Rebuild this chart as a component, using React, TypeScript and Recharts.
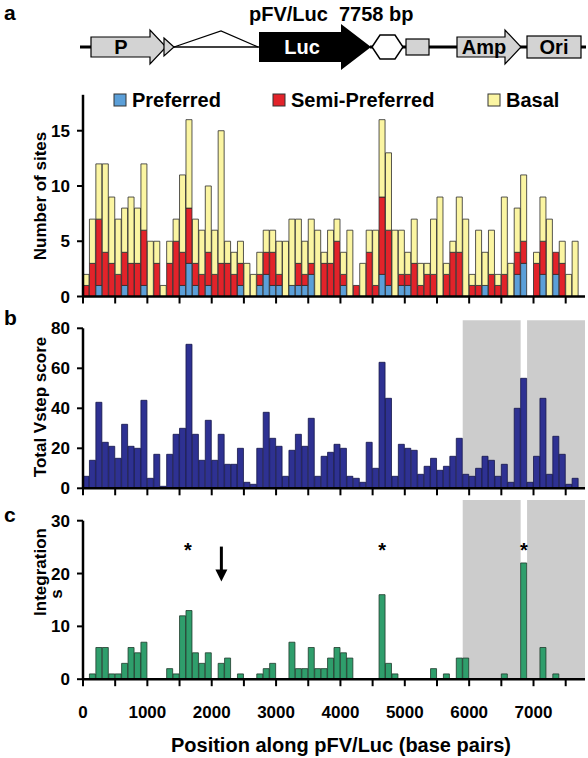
import React from 'react';
import { BarChart, Bar, XAxis, YAxis, ReferenceArea, ReferenceDot } from 'recharts';

// 100 bp bins along the 7758 bp plasmid (bin centres)
const binCenters = [
  50, 150, 250, 350, 450, 550, 650, 750, 850, 950,
  1050, 1150, 1250, 1350, 1450, 1550, 1650, 1750, 1850, 1950,
  2050, 2150, 2250, 2350, 2450, 2550, 2650, 2750, 2850, 2950,
  3050, 3150, 3250, 3350, 3450, 3550, 3650, 3750, 3850, 3950,
  4050, 4150, 4250, 4350, 4450, 4550, 4650, 4750, 4850, 4950,
  5050, 5150, 5250, 5350, 5450, 5550, 5650, 5750, 5850, 5950,
  6050, 6150, 6250, 6350, 6450, 6550, 6650, 6750, 6850, 6950,
  7050, 7150, 7250, 7350, 7450, 7550, 7650, 7750,
];

const preferred = [
  0, 0, 1, 0, 0, 0, 1, 0, 0, 1,
  0, 0, 0, 0, 0, 1, 3, 1, 0, 1,
  0, 0, 0, 0, 1, 0, 0, 1, 2, 1,
  1, 0, 1, 1, 1, 2, 0, 0, 0, 0,
  1, 0, 0, 0, 0, 0, 2, 1, 0, 1,
  1, 0, 0, 0, 0, 0, 0, 0, 0, 0,
  0, 0, 1, 0, 0, 0, 0, 2, 3, 0,
  0, 2, 0, 2, 0, 0, 0, 0,
];

const semiPreferred = [
  1, 3, 6, 4, 3, 2, 3, 3, 3, 5,
  0, 3, 0, 3, 5, 3, 5, 2, 2, 3,
  2, 3, 3, 2, 2, 0, 0, 1, 2, 3,
  1, 0, 0, 2, 1, 1, 0, 3, 3, 5,
  1, 0, 1, 0, 4, 1, 7, 5, 0, 1,
  1, 3, 1, 2, 2, 0, 2, 4, 4, 0,
  1, 1, 0, 2, 1, 2, 0, 2, 2, 0,
  3, 3, 0, 2, 3, 0, 0, 0,
];

const basal = [
  1, 4, 5, 8, 6, 5, 4, 6, 5, 6,
  5, 2, 1, 2, 2, 7, 8, 4, 4, 6,
  4, 12, 2, 2, 2, 3, 2, 2, 2, 2,
  3, 5, 6, 4, 3, 4, 6, 1, 3, 2,
  2, 6, 0, 3, 2, 5, 7, 7, 6, 4,
  2, 4, 2, 1, 5, 9, 1, 1, 5, 7,
  1, 5, 3, 4, 1, 7, 3, 4, 6, 0,
  1, 4, 7, 0, 2, 2, 5, 0,
];

const vstepScore = [
  6, 14, 43, 23, 21, 15, 32, 21, 20, 44,
  5, 17, 1, 17, 27, 30, 72, 27, 14, 34,
  14, 27, 12, 12, 20, 3, 2, 20, 38, 25,
  21, 6, 19, 27, 21, 35, 6, 16, 18, 22,
  20, 6, 5, 3, 23, 10, 63, 45, 6, 22,
  20, 19, 7, 11, 15, 9, 11, 16, 25, 7,
  6, 10, 16, 14, 6, 12, 3, 40, 55, 3,
  16, 45, 7, 26, 17, 2, 5, 0,
];

const integrationSites = [
  0, 1, 6, 6, 1, 1, 3, 6, 5, 7,
  0, 0, 0, 2, 1, 12, 13, 5, 3, 5,
  0, 3, 4, 0, 1, 0, 0, 1, 2, 3,
  0, 0, 7, 2, 2, 6, 2, 2, 4, 6,
  5, 4, 0, 0, 0, 0, 16, 3, 1, 0,
  0, 0, 0, 0, 2, 0, 1, 0, 4, 4,
  0, 0, 0, 0, 0, 1, 0, 0, 22, 0,
  0, 6, 0, 1, 0, 0, 0, 0,
];

const xTicks = [0, 500, 1000, 1500, 2000, 2500, 3000, 3500, 4000, 4500, 5000, 5500, 6000, 6500, 7000, 7500];
const sitesTicks = [0, 5, 10, 15];
const vstepTicks = [0, 20, 40, 60, 80];
const integrationTicks = [0, 10, 20, 30];

// shaded regions (bp) in panels b and c
const shadedFrom = [5900, 6900];
const shadedTo = [6800, 7800];

// starred hotspots and arrow in panel c (bp)
const starPositions = [1630, 4650, 6850];
const arrowPosition = 2150;

const FONT = '"Liberation Sans", Arial, Helvetica, sans-serif';

const sitesData = binCenters.map((pos, i) => ({
  pos,
  preferred: preferred[i],
  semi: semiPreferred[i],
  basal: basal[i],
}));
const vstepData = binCenters.map((pos, i) => ({ pos, score: vstepScore[i] }));
const integrationData = binCenters.map((pos, i) => ({ pos, sites: integrationSites[i] }));

const tickStyle = { fill: '#000', fontSize: 17, fontWeight: 700, fontFamily: FONT };
const axisLine = { stroke: '#000', strokeWidth: 2.5 };
const tickLine = { stroke: '#000', strokeWidth: 2 };

const xAxisProps = {
  type: 'number' as const,
  dataKey: 'pos',
  domain: [0, 7800],
  ticks: xTicks,
  allowDataOverflow: true,
  axisLine,
  tickLine,
  tickSize: 7,
};

const yAxisProps = {
  width: 83,
  axisLine,
  tickLine,
  tickSize: 6,
  tickMargin: 7,
  tick: tickStyle,
  interval: 0 as const,
};

const PlasmidMap = () => (
  <g>
    <line x1={80} y1={47} x2={172} y2={47} stroke="#000" strokeWidth={3} />
    <line x1={172} y1={47} x2={260} y2={47} stroke="#000" strokeWidth={1.5} />
    <line x1={370} y1={47} x2={586} y2={47} stroke="#000" strokeWidth={3} />
    <polyline points="174,47 221,31 258,47" fill="none" stroke="#000" strokeWidth={1.3} />
    <polygon points="91,37 150,37 150,30 166,47 150,64 150,57 91,57" fill="#d3d3d3" stroke="#000" strokeWidth={1.2} />
    <polygon points="164,38 174,47 164,56" fill="#d3d3d3" stroke="#000" strokeWidth={1.2} />
    <text x={121} y={54} textAnchor="middle" fontSize={20} fontWeight={700} fontFamily={FONT}>P</text>
    <polygon points="259,32 341,32 341,24 371,47 341,70 341,62 259,62" fill="#000" />
    <text x={302} y={54} textAnchor="middle" fontSize={20} fontWeight={700} fontFamily={FONT} fill="#fff">Luc</text>
    <polygon points="372,47 380,35 395,35 403,47 395,59 380,59" fill="#fff" stroke="#000" strokeWidth={1.5} />
    <rect x={406} y={39} width={23} height={16} fill="#d3d3d3" stroke="#000" strokeWidth={1.2} />
    <polygon points="457,37 505,37 505,30 521,47 505,64 505,57 457,57" fill="#d3d3d3" stroke="#000" strokeWidth={1.2} />
    <text x={484} y={54} textAnchor="middle" fontSize={20} fontWeight={700} fontFamily={FONT}>Amp</text>
    <rect x={527} y={36} width={54} height={22} fill="#d3d3d3" stroke="#000" strokeWidth={1.2} />
    <text x={554} y={54} textAnchor="middle" fontSize={20} fontWeight={700} fontFamily={FONT}>Ori</text>
  </g>
);

const legendItems = [
  { label: 'Preferred', color: '#5b9fd8', x: 114 },
  { label: 'Semi-Preferred', color: '#e2232a', x: 273 },
  { label: 'Basal', color: '#fbf5a2', x: 488 },
];

const Overlay = () => (
  <svg width={588} height={758} style={{ position: 'absolute', left: 0, top: 0, pointerEvents: 'none' }}>
    <text x={4} y={20} fontSize={21} fontWeight={700} fontFamily={FONT}>a</text>
    <text x={4} y={325} fontSize={21} fontWeight={700} fontFamily={FONT}>b</text>
    <text x={4} y={522} fontSize={21} fontWeight={700} fontFamily={FONT}>c</text>
    <text x={249} y={21} fontSize={20} fontWeight={700} fontFamily={FONT}>
      <tspan>pFV/Luc</tspan>
      <tspan dx={11}>7758 bp</tspan>
    </text>
    <PlasmidMap />
    {legendItems.map((it) => (
      <g key={it.label}>
        <rect x={it.x} y={94} width={12} height={12} fill={it.color} stroke="#333" strokeWidth={1} />
        <text x={it.x + 18} y={107} fontSize={20} fontWeight={700} fontFamily={FONT}>{it.label}</text>
      </g>
    ))}
    <text transform="translate(46,196) rotate(-90)" textAnchor="middle" fontSize={17} fontWeight={700} fontFamily={FONT}>Number of sites</text>
    <text transform="translate(46,407) rotate(-90)" textAnchor="middle" fontSize={17} fontWeight={700} fontFamily={FONT}>Total Vstep score</text>
    <text transform="translate(46,572) rotate(-90)" textAnchor="middle" fontSize={17} fontWeight={700} fontFamily={FONT}>Integration</text>
    <text transform="translate(62,594) rotate(-90)" textAnchor="middle" fontSize={17} fontWeight={700} fontFamily={FONT}>s</text>
    <text x={341} y={752} textAnchor="middle" fontSize={20} fontWeight={700} fontFamily={FONT}>Position along pFV/Luc (base pairs)</text>
  </svg>
);

const Star = (props: any) => (
  <text x={props.cx} y={props.cy + 8} textAnchor="middle" fontSize={20} fontWeight={700} fontFamily={FONT}>*</text>
);

const DownArrow = (props: any) => {
  const { cx, cy } = props;
  return (
    <g>
      <line x1={cx} y1={cy} x2={cx} y2={cy + 26} stroke="#000" strokeWidth={3} />
      <polygon points={`${cx - 6},${cy + 23} ${cx + 6},${cy + 23} ${cx},${cy + 35}`} fill="#000" />
    </g>
  );
};

export default function App() {
  return (
    <div style={{ position: 'absolute', left: 0, top: 0, width: 588, height: 758, background: '#fff', overflow: 'hidden' }}>
      <div style={{ position: 'absolute', left: 0, top: 0 }}>
        <BarChart width={588} height={330} data={sitesData} barCategoryGap={0} barGap={0}
          margin={{ top: 94.8, right: 3, bottom: 0, left: 0 }}>
          <XAxis {...xAxisProps} height={33.5} tickFormatter={() => ''} />
          <YAxis {...yAxisProps} domain={[0, 18.25]} ticks={sitesTicks} allowDataOverflow />
          <Bar dataKey="preferred" stackId="s" fill="#5b9fd8" stroke="#2b2b2b" strokeWidth={0.8} isAnimationActive={false} />
          <Bar dataKey="semi" stackId="s" fill="#e2232a" stroke="#2b2b2b" strokeWidth={0.8} isAnimationActive={false} />
          <Bar dataKey="basal" stackId="s" fill="#fbf5a2" stroke="#2b2b2b" strokeWidth={0.8} isAnimationActive={false} />
        </BarChart>
      </div>
      <div style={{ position: 'absolute', left: 0, top: 500 }}>
        <BarChart width={588} height={258} data={integrationData} barCategoryGap={0} barGap={0}
          margin={{ top: 20.7, right: 3, bottom: 0, left: 0 }}>
          <XAxis {...xAxisProps} height={78.8} tick={tickStyle} tickMargin={20}
            tickFormatter={(v: number) => (v % 1000 === 0 ? String(v) : '')} />
          <YAxis {...yAxisProps} domain={[0, 30]} ticks={integrationTicks} />
          {shadedFrom.map((x1, i) => (
            <ReferenceArea key={x1} x1={x1} x2={shadedTo[i]} y1={0} y2={35.8} fill="#cccccc" fillOpacity={1} stroke="none" ifOverflow="visible" />
          ))}
          <Bar dataKey="sites" fill="#2f9e6c" stroke="#1f3b2c" strokeWidth={0.8} isAnimationActive={false} />
          {starPositions.map((x) => (
            <ReferenceDot key={x} x={x} y={24.6} r={0} ifOverflow="visible" shape={Star} />
          ))}
          <ReferenceDot x={arrowPosition} y={25.1} r={0} ifOverflow="visible" shape={DownArrow} />
        </BarChart>
      </div>
      <div style={{ position: 'absolute', left: 0, top: 300 }}>
        <BarChart width={588} height={200} data={vstepData} barCategoryGap={0} barGap={0}
          margin={{ top: 28.3, right: 3, bottom: 0, left: 0 }}>
          <XAxis {...xAxisProps} height={11.7} tickFormatter={() => ''} />
          <YAxis {...yAxisProps} domain={[0, 80]} ticks={vstepTicks} />
          {shadedFrom.map((x1, i) => (
            <ReferenceArea key={x1} x1={x1} x2={shadedTo[i]} y1={0} y2={84} fill="#cccccc" fillOpacity={1} stroke="none" ifOverflow="visible" />
          ))}
          <Bar dataKey="score" fill="#2e3192" stroke="#15174a" strokeWidth={0.8} isAnimationActive={false} />
        </BarChart>
      </div>
      <Overlay />
    </div>
  );
}
